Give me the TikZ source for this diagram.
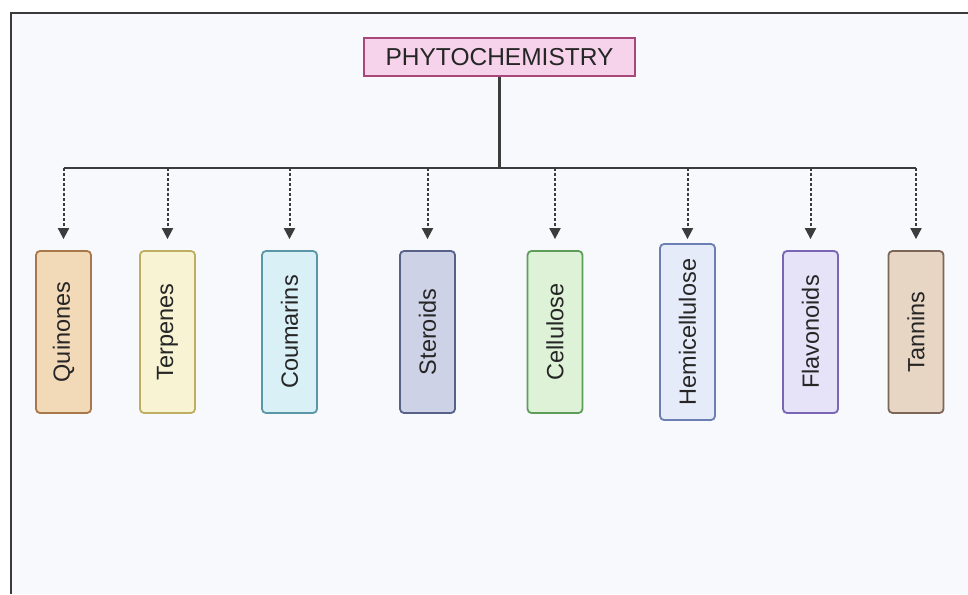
\documentclass[tikz,border=0pt]{standalone}
\usepackage{fontspec}
\setsansfont{Liberation Sans}
\usepackage{xcolor}
\usetikzlibrary{arrows.meta, positioning}

\definecolor{bgcol}{HTML}{F8F9FD}
\definecolor{framecol}{HTML}{3A3A3A}
\definecolor{linecol}{HTML}{3C3C3C}
\definecolor{txtcol}{HTML}{262626}
\definecolor{titlefill}{HTML}{F6D3EA}
\definecolor{titledraw}{HTML}{A8487A}
\definecolor{quindraw}{HTML}{A9784A}\definecolor{quinfill}{HTML}{F2D9B8}
\definecolor{terpdraw}{HTML}{BFAE62}\definecolor{terpfill}{HTML}{F7F3D3}
\definecolor{coumdraw}{HTML}{5A98A8}\definecolor{coumfill}{HTML}{D9F0F6}
\definecolor{sterdraw}{HTML}{586288}\definecolor{sterfill}{HTML}{CDD2E6}
\definecolor{celldraw}{HTML}{5E9E58}\definecolor{cellfill}{HTML}{DDF2D6}
\definecolor{hemidraw}{HTML}{6D7EB2}\definecolor{hemifill}{HTML}{E5EBF8}
\definecolor{flavdraw}{HTML}{7A66B4}\definecolor{flavfill}{HTML}{E6E2F7}
\definecolor{tanndraw}{HTML}{7C6658}\definecolor{tannfill}{HTML}{E8D6C5}

\begin{document}
\begin{tikzpicture}[x=1pt, y=-1pt,
  title/.style={draw=titledraw, fill=titlefill, line width=2pt, minimum width=271pt, minimum height=38pt,
    inner sep=0pt, text=txtcol, font=\sffamily\fontsize{24.5}{26}\selectfont},
  cls/.style={draw=#1draw, fill=#1fill, line width=1.8pt, rounded corners=4pt, rotate=90,
    minimum width=162pt, minimum height=55pt, inner sep=0pt, text=txtcol,
    font=\sffamily\fontsize{23.5}{25}\selectfont},
  trunk/.style={linecol, line width=2.2pt},
  branch/.style={-{Triangle[width=11pt,length=11pt]}, linecol, line width=2pt, dash pattern=on 3pt off 2pt}
]
\useasboundingbox (0,0) rectangle (968,594);
\fill[white] (0,0) rectangle (968,594);
\fill[bgcol] (11,13) rectangle (968,594);
\draw[framecol, line width=1.8pt] (11,594) -- (11,13) -- (968,13);

% root
\node[title] (root) at (499.5,57) {PHYTOCHEMISTRY};

% classes
\node[cls=quin] (quin) at (63.5,332) {Quinones};
\node[cls=terp] (terp) at (167.5,332) {Terpenes};
\node[cls=coum] (coum) at (289.5,332) {Coumarins};
\node[cls=ster] (ster) at (427.5,332) {Steroids};
\node[cls=cell] (cell) at (555,332) {Cellulose};
\node[cls=hemi, minimum width=176pt] (hemi) at (687.5,332) {Hemicellulose};
\node[cls=flav] (flav) at (810.5,332) {Flavonoids};
\node[cls=tann] (tann) at (916,332) {Tannins};

% tree lines
\coordinate (hub) at (499.5,168);
\foreach \n in {quin,terp,coum,ster,cell,hemi,flav,tann}
  \coordinate (j-\n) at (\n.east |- hub);
\draw[trunk] (root.south) -- (hub);
\draw[trunk] (j-quin) -- (j-tann);
\foreach \n in {quin,terp,coum,ster,cell,flav,tann}
  \draw[branch, shorten >=11pt] (j-\n) -- (\n.east);
\draw[branch, shorten >=4pt] (j-hemi) -- (hemi.east);
\end{tikzpicture}
\end{document}
